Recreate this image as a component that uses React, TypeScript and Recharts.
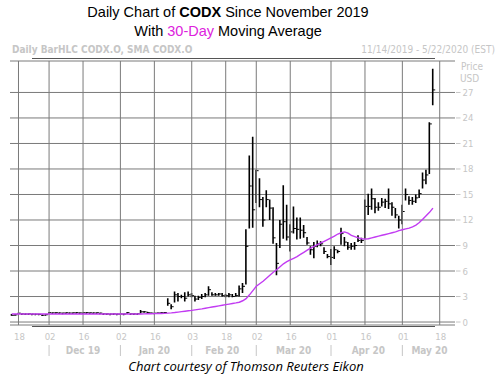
import React from 'react'
import {
  ComposedChart,
  Bar,
  Line,
  XAxis,
  YAxis,
  CartesianGrid,
  ReferenceLine,
} from 'recharts'

// trading days, 11/14/2019 - 5/22/2020
const dates = [
  '11/14', '11/15', '11/18', '11/19', '11/20', '11/21', '11/22', '11/25', '11/26', '11/27', '11/29',
  '12/02', '12/03', '12/04', '12/05', '12/06', '12/09', '12/10', '12/11', '12/12', '12/13', '12/16',
  '12/17', '12/18', '12/19', '12/20', '12/23', '12/24', '12/26', '12/27', '12/30', '12/31',
  '01/02', '01/03', '01/06', '01/07', '01/08', '01/09', '01/10', '01/13', '01/14', '01/15', '01/16',
  '01/17', '01/21', '01/22', '01/23', '01/24', '01/27', '01/28', '01/29', '01/30', '01/31',
  '02/03', '02/04', '02/05', '02/06', '02/07', '02/10', '02/11', '02/12', '02/13', '02/14', '02/18',
  '02/19', '02/20', '02/21', '02/24', '02/25', '02/26', '02/27', '02/28',
  '03/02', '03/03', '03/04', '03/05', '03/06', '03/09', '03/10', '03/11', '03/12', '03/13', '03/16',
  '03/17', '03/18', '03/19', '03/20', '03/23', '03/24', '03/25', '03/26', '03/27', '03/30', '03/31',
  '04/01', '04/02', '04/03', '04/06', '04/07', '04/08', '04/09', '04/13', '04/14', '04/15', '04/16',
  '04/17', '04/20', '04/21', '04/22', '04/23', '04/24', '04/27', '04/28', '04/29', '04/30',
  '05/01', '05/04', '05/05', '05/06', '05/07', '05/08', '05/11', '05/12', '05/13', '05/14', '05/15',
  '05/18', '05/19', '05/20', '05/21', '05/22',
]

const highs = [
  0.95, 0.9, 1.1, 1.0, 0.99, 1.0, 0.98, 0.97, 0.96, 0.88, 0.9,
  1.14, 1.12, 1.15, 1.12, 1.1, 1.13, 1.11, 1.12, 1.14, 1.12, 1.13, 1.15, 1.12, 1.11, 1.13, 1.1,
  1.0, 0.99, 0.98, 0.99, 0.98,
  0.99, 0.98, 1.14, 1.0, 0.99, 1.0, 1.4, 1.3, 1.2, 1.12, 1.1, 1.12, 1.15, 1.18, 2.8, 2.1, 3.6,
  3.4, 3.2, 3.5, 3.6,
  3.4, 3.1, 3.1, 3.3, 3.4, 4.2, 3.5, 3.4, 3.4, 3.4, 3.3, 3.4, 3.3, 3.4, 4.3, 4.6, 10.9, 19.6, 21.8,
  17.9, 16.9, 14.7, 15.5, 14.4, 13.5, 9.3, 12.0, 16.1, 13.8, 11.5, 13.6, 12.3, 12.3, 11.4, 10.0,
  8.9, 9.4, 9.6, 9.5, 8.8, 8.0,
  8.6, 8.9, 8.5, 11.1, 10.0, 9.4, 9.3, 9.4, 10.2, 9.9, 14.4, 15.1, 15.7, 14.6, 14.1, 14.6, 14.5,
  15.7, 14.1, 13.4, 12.5,
  13.8, 15.7, 14.8, 14.7, 15.0, 15.6, 17.6, 17.9, 23.5, 29.8,
]

const lows = [
  0.75, 0.76, 0.96, 0.91, 0.9, 0.92, 0.9, 0.89, 0.88, 0.76, 0.78,
  1.02, 1.03, 1.04, 1.02, 1.01, 1.03, 1.02, 1.03, 1.04, 1.02, 1.03, 1.04, 1.03, 1.02, 1.03, 1.01,
  0.92, 0.91, 0.9, 0.91, 0.9,
  0.91, 0.9, 1.02, 0.92, 0.91, 0.92, 1.0, 1.08, 1.0, 1.0, 0.98, 1.0, 1.02, 1.04, 1.9, 1.5, 2.3,
  2.4, 2.8, 2.4, 3.0,
  2.9, 2.4, 2.6, 2.7, 2.9, 3.1, 3.1, 3.1, 3.1, 3.0, 2.9, 2.9, 2.9, 3.0, 3.0, 3.4, 4.4, 11.0, 11.1,
  14.0, 13.5, 11.2, 13.5, 12.0, 9.2, 5.5, 8.7, 9.8, 9.6, 8.3, 10.4, 9.7, 9.8, 9.9, 9.1,
  7.9, 7.5, 8.8, 8.9, 8.0, 7.5,
  6.7, 7.4, 8.1, 9.1, 8.9, 8.5, 8.5, 8.5, 9.4, 9.3, 9.8, 12.6, 13.2, 12.8, 13.1, 13.6, 13.4,
  13.3, 12.5, 12.2, 11.0,
  11.5, 14.3, 13.8, 13.8, 14.0, 14.6, 15.7, 16.2, 17.4, 25.5,
]

const closes = [
  0.8, 0.84, 1.04, 0.95, 0.94, 0.96, 0.93, 0.92, 0.9, 0.8, 0.86,
  1.1, 1.08, 1.09, 1.07, 1.06, 1.09, 1.06, 1.08, 1.1, 1.07, 1.09, 1.1, 1.08, 1.07, 1.09, 1.05,
  0.96, 0.95, 0.94, 0.95, 0.93,
  0.95, 0.94, 1.1, 0.96, 0.95, 0.97, 1.2, 1.2, 1.1, 1.05, 1.04, 1.06, 1.1, 1.12, 2.2, 1.8, 3.2,
  3.0, 3.0, 2.8, 3.2,
  3.1, 2.7, 2.9, 3.0, 3.2, 3.8, 3.2, 3.2, 3.3, 3.1, 3.1, 3.2, 3.0, 3.1, 3.9, 4.2, 8.9, 16.0, 13.2,
  17.8, 14.4, 12.0, 14.4, 13.4, 9.9, 6.9, 11.5, 11.8, 10.0, 10.6, 11.0, 10.9, 10.8, 10.5, 9.3,
  8.5, 8.9, 9.2, 9.2, 8.3, 7.7,
  7.6, 8.5, 8.3, 10.4, 9.4, 8.8, 8.9, 9.0, 9.6, 9.6, 13.6, 13.6, 14.5, 13.5, 13.5, 14.1, 14.2,
  13.9, 13.5, 12.6, 12.0,
  13.0, 15.0, 14.3, 14.2, 14.6, 15.1, 16.7, 17.3, 23.3, 27.3,
]

// 30-day simple moving average
const sma30 = [
  0.95, 0.95, 0.95, 0.95, 0.95, 0.95, 0.95, 0.95, 0.95, 0.95, 0.95,
  0.95, 0.95, 0.95, 0.95, 0.95, 0.95, 0.95, 0.95, 0.95, 0.95, 0.95, 0.95, 0.95, 0.95, 0.95, 0.95,
  0.95, 0.95, 0.95, 0.95, 0.95,
  0.95, 0.95, 0.95, 0.95, 0.95, 0.95, 0.95, 0.96, 0.97, 0.98, 0.99, 1.0, 1.01, 1.02, 1.05, 1.08,
  1.12, 1.17, 1.22, 1.27, 1.32,
  1.37, 1.43, 1.49, 1.55, 1.62, 1.69, 1.76, 1.83, 1.9, 1.97, 2.04, 2.11, 2.18, 2.25, 2.33, 2.5,
  2.75, 3.2, 3.7,
  4.2, 4.5, 4.8, 5.15, 5.5, 5.85, 6.15, 6.5, 6.85, 7.1, 7.3, 7.5, 7.7, 7.95, 8.2, 8.45, 8.7, 8.9,
  9.1, 9.3, 9.5, 9.7,
  9.9, 10.1, 10.35, 10.5, 10.6, 10.45, 10.2, 10.05, 9.9, 9.8, 9.75, 9.8, 9.9, 10.0, 10.1, 10.2,
  10.3, 10.4, 10.5, 10.6, 10.75,
  10.85, 10.95, 11.05, 11.2, 11.4, 11.7, 12.1, 12.5, 12.9, 13.4,
]

const priceTicks = [0, 3, 6, 9, 12, 15, 18, 21, 24, 27]
const dayTicks = [
  '11/18', '12/02', '12/16', '01/02', '01/16', '02/03', '02/18',
  '03/02', '03/16', '04/01', '04/16', '05/01', '05/18',
]
const monthStarts = ['12/02', '01/02', '02/03', '03/02', '04/01', '05/01']
const monthLabelDates = ['12/16', '01/16', '02/14', '03/17', '04/17', '05/13']
const monthNames = ['Dec 19', 'Jan 20', 'Feb 20', 'Mar 20', 'Apr 20', 'May 20']

const data = dates.map((d, i) => ({
  d,
  high: highs[i] ?? null,
  low: lows[i] ?? null,
  close: closes[i] ?? null,
  range: i < highs.length ? [lows[i], highs[i]] : null,
  sma: sma30[i] ?? null,
}))

const GRID = '#7a7a7a'
const LABEL = '#c6c6c6'
const SMA_COLOR = '#c23cf2'
const TICK_FONT = "'DejaVu Sans Condensed', 'DejaVu Sans', sans-serif"

function HlcBar(props: any) {
  const { x, y, width, height, payload } = props
  if (!payload || payload.high == null || y == null || isNaN(y)) return null
  const cx = x + width / 2
  const top = Math.min(y, y + height)
  const realBottom = Math.max(y, y + height)
  const bottom = Math.max(realBottom, top + 1.5)
  const span = payload.high - payload.low
  const cy = span > 0 ? top + ((payload.high - payload.close) / span) * (realBottom - top) : top
  return (
    <g>
      <line x1={cx} x2={cx} y1={top} y2={bottom} stroke="#000" strokeWidth={1.6} />
      <line x1={cx} x2={cx + 2.5} y1={cy} y2={cy} stroke="#000" strokeWidth={1} />
    </g>
  )
}

function DayTick({ x, y, payload }: any) {
  return (
    <text x={x + 1} y={y + 7} textAnchor="middle" fontSize={9.5} fill={LABEL} fontFamily={TICK_FONT}>
      {String(payload.value).slice(3)}
    </text>
  )
}

function MonthTick({ x, y, payload }: any) {
  if (monthStarts.includes(payload.value)) {
    return <line x1={x} x2={x} y1={y - 2} y2={y + 9} stroke={LABEL} strokeWidth={1} />
  }
  const m = monthLabelDates.indexOf(payload.value)
  return (
    <text x={x} y={y + 7} textAnchor="middle" fontSize={10} fontWeight="bold" fill={LABEL} fontFamily={TICK_FONT}>
      {monthNames[m]}
    </text>
  )
}

function PriceTick({ x, y, payload }: any) {
  return (
    <g>
      <line x1={x + 1} x2={x + 5.5} y1={y} y2={y} stroke={LABEL} strokeWidth={1} />
      <text x={x + 7.5} y={y + 3.5} fontSize={9.5} fill={LABEL} fontFamily={TICK_FONT}>
        {payload.value}
      </text>
    </g>
  )
}

export default function App() {
  return (
    <div
      style={{
        position: 'absolute',
        left: 0,
        top: 0,
        width: 503,
        height: 375,
        background: '#fff',
        overflow: 'hidden',
      }}
    >
      <div style={{ position: 'absolute', left: 0, top: 0 }}>
        <ComposedChart
          width={503}
          height={375}
          data={data}
          margin={{ top: 61, right: 0, bottom: 16, left: 10 }}
          barCategoryGap={0}
        >
          <CartesianGrid vertical={false} stroke={GRID} />
          {dayTicks.map((d) => (
            <ReferenceLine key={d} x={d} stroke={GRID} strokeWidth={1} />
          ))}
          <XAxis
            dataKey="d"
            ticks={dayTicks}
            interval={0}
            axisLine={false}
            tickLine={false}
            height={14}
            tick={<DayTick />}
          />
          <XAxis
            xAxisId="m"
            dataKey="d"
            ticks={[...monthStarts, ...monthLabelDates]}
            interval={0}
            axisLine={false}
            tickLine={false}
            height={20}
            tick={<MonthTick />}
          />
          <YAxis
            orientation="right"
            domain={[-0.35, 30.7]}
            ticks={priceTicks}
            allowDataOverflow
            axisLine={false}
            tickLine={false}
            tickSize={0}
            tickMargin={0}
            width={48}
            tick={<PriceTick />}
          />
          <Bar dataKey="range" shape={<HlcBar />} isAnimationActive={false} />
          <Line
            dataKey="sma"
            type="linear"
            stroke={SMA_COLOR}
            strokeWidth={1.4}
            dot={false}
            activeDot={false}
            isAnimationActive={false}
          />
        </ComposedChart>
      </div>

      {/* titles */}
      <div
        style={{
          position: 'absolute',
          left: 0,
          top: 3,
          width: 456,
          textAlign: 'center',
          fontFamily: "'Liberation Sans', Arial, sans-serif",
          fontSize: 14.5,
          lineHeight: '19px',
          color: '#000',
        }}
      >
        <div>
          Daily Chart of <b>CODX</b> Since November 2019
        </div>
        <div>
          With <span style={{ color: '#dd22dd' }}>30-Day</span> Moving Average
        </div>
      </div>

      <div
        style={{
          position: 'absolute',
          left: 12,
          top: 44,
          fontFamily: TICK_FONT,
          fontSize: 10,
          fontWeight: 'bold',
          lineHeight: '12px',
          color: LABEL,
          whiteSpace: 'nowrap',
        }}
      >
        Daily BarHLC CODX.O, SMA CODX.O
      </div>
      <div
        style={{
          position: 'absolute',
          right: 8,
          top: 44,
          fontFamily: TICK_FONT,
          fontSize: 10,
          lineHeight: '12px',
          color: LABEL,
          whiteSpace: 'nowrap',
        }}
      >
        11/14/2019 - 5/22/2020 (EST)
      </div>
      <div
        style={{
          position: 'absolute',
          left: 461,
          top: 61,
          fontFamily: TICK_FONT,
          fontSize: 10,
          lineHeight: '12px',
          color: LABEL,
        }}
      >
        Price
        <br />
        <span style={{ marginLeft: -1 }}>USD</span>
      </div>

      <div style={{ position: 'absolute', left: 32, top: 58, width: 403, borderTop: '1px solid #555' }} />
      <div style={{ position: 'absolute', left: 32, top: 326, width: 403, borderTop: '1px solid #555' }} />

      <div
        style={{
          position: 'absolute',
          left: 0,
          top: 358,
          width: 492,
          textAlign: 'center',
          fontFamily: "'Open Sans', sans-serif",
          fontStyle: 'italic',
          fontSize: 13,
          lineHeight: '16px',
          color: '#000',
        }}
      >
        Chart courtesy of Thomson Reuters Eikon
      </div>
    </div>
  )
}
